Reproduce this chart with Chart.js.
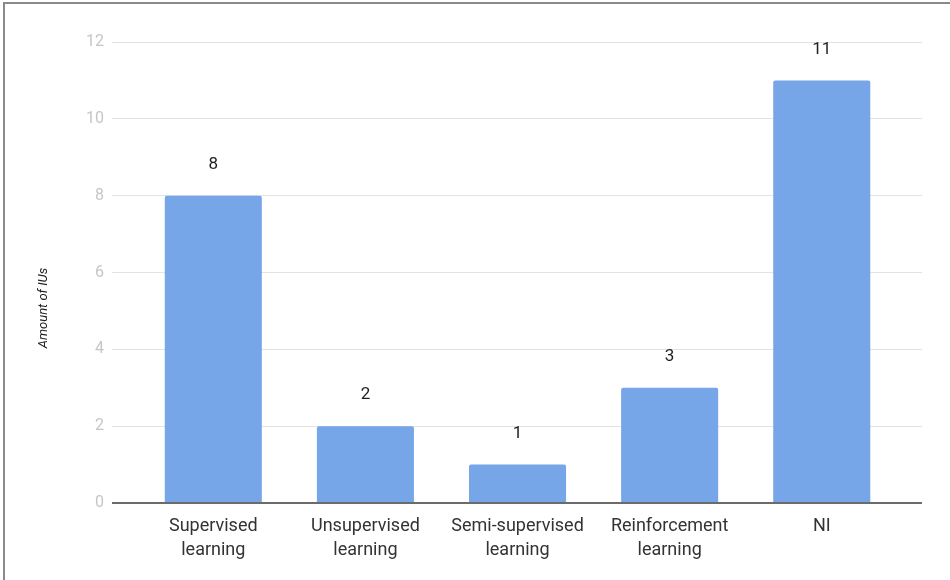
<!DOCTYPE html>
<html>
<head>
<meta charset="utf-8">
<script src="https://cdn.jsdelivr.net/npm/chart.js@4.4.1/dist/chart.umd.min.js"></script>
<style>
  html, body { margin: 0; padding: 0; background: #fff; }
  #wrap { position: relative; width: 950px; height: 580px; }
  #frame { position: absolute; left: 3px; top: 2px; right: 0; bottom: 0;
           border-left: 2px solid #8a8a8a; border-top: 2px solid #8a8a8a; pointer-events: none; }
  canvas { display: block; }
</style>
</head>
<body>
<div id="wrap">
  <canvas id="c" width="950" height="580"></canvas>
  <div id="frame"></div>
</div>
<script>
// Learning types and the number of IUs in each
const categories = [
  ['Supervised', 'learning'],
  ['Unsupervised', 'learning'],
  ['Semi-supervised', 'learning'],
  ['Reinforcement', 'learning'],
  ['NI']
];
const amounts = [8, 2, 1, 3, 11];
const yTicks = [0, 2, 4, 6, 8, 10, 12];
const yTitle = 'Amount of IUs';

const FONT = 'Roboto, "Liberation Sans", Arial, sans-serif';
const BAR = '#76a5e8';

// value labels above each bar
const valueLabels = {
  id: 'valueLabels',
  afterDatasetsDraw(chart) {
    const ctx = chart.ctx;
    const meta = chart.getDatasetMeta(0);
    ctx.save();
    ctx.font = '17px ' + FONT;
    ctx.fillStyle = '#1e1e1e';
    ctx.textAlign = 'center';
    ctx.textBaseline = 'middle';
    meta.data.forEach((bar, i) => {
      ctx.fillText(String(amounts[i]), bar.x, bar.y - 31);
    });
    ctx.restore();
  }
};

// rotated y-axis title
const axisTitle = {
  id: 'axisTitle',
  afterDraw(chart) {
    const ctx = chart.ctx;
    ctx.save();
    ctx.translate(44, 308);
    ctx.rotate(-Math.PI / 2);
    ctx.font = 'italic 13px ' + FONT;
    ctx.fillStyle = '#222';
    ctx.textAlign = 'center';
    ctx.textBaseline = 'middle';
    ctx.fillText(yTitle, 0, 0);
    ctx.restore();
  }
};

new Chart(document.getElementById('c'), {
  type: 'bar',
  data: {
    datasets: [{
      data: amounts.map((v, i) => ({ x: i, y: v })),
      backgroundColor: BAR,
      borderRadius: { topLeft: 2, topRight: 2 },
      borderSkipped: 'bottom',
      barPercentage: 0.638,
      categoryPercentage: 1
    }]
  },
  options: {
    responsive: false,
    animation: false,
    layout: { padding: { left: 0, right: 28, top: 42, bottom: 0 } },
    plugins: { legend: { display: false }, tooltip: { enabled: false } },
    scales: {
      x: {
        type: 'linear',
        offset: false,
        min: -0.666,
        max: 4.659,
        grid: { display: false, drawTicks: false, offset: false },
        border: { display: false },
        afterBuildTicks(scale) {
          scale.ticks = categories.map((_, i) => ({ value: i }));
        },
        afterFit(scale) { scale.height = 77; },
        ticks: {
          autoSkip: false,
          maxRotation: 0,
          padding: 12,
          color: '#333',
          font: { family: FONT, size: 18, lineHeight: 1.333 },
          callback: (v) => categories[v]
        }
      },
      y: {
        min: 0,
        max: 12,
        afterBuildTicks(scale) {
          scale.ticks = yTicks.map(v => ({ value: v }));
        },
        afterFit(scale) { scale.width = 112; },
        border: { display: false },
        grid: {
          drawTicks: false,
          color: (c) => c.tick && c.tick.value === 0 ? '#6b6b6b' : '#e2e2e2',
          lineWidth: (c) => c.tick && c.tick.value === 0 ? 2 : 1
        },
        ticks: {
          padding: 8,
          color: '#c6c6c6',
          font: { family: FONT, size: 16 }
        }
      }
    }
  },
  plugins: [valueLabels, axisTitle]
});
</script>
</body>
</html>
